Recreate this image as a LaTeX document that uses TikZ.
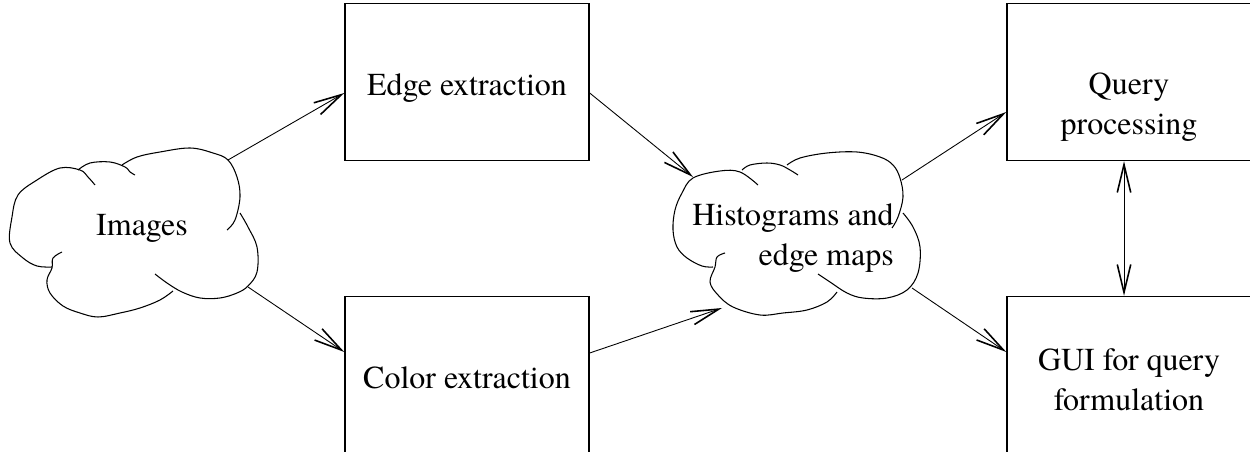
\documentclass[tikz,border=0pt]{standalone}
\usepackage{fontspec}
\setmainfont{texgyretermes-regular.otf}
\newfontfamily\figfont{texgyretermes-regular.otf}
\usetikzlibrary{arrows.meta}
\tikzset{
  >={Straight Barb[length=0.56cm,width=0.27cm,line width=0.9pt]},
  stage/.style={draw, line width=0.8pt, minimum width=4.88cm, minimum height=3.14cm},
  flow/.style={->, line width=0.5pt},
  puff/.style={line width=0.6pt}
}
\begin{document}
\begin{tikzpicture}[x=0.02cm,y=-0.02cm,font=\figfont\fontsize{18.2}{22.7}\selectfont]
\useasboundingbox (0,0) rectangle (1250,452);
\clip (0,0) rectangle (1250,452);
\node[stage] (edge) at (467,82) {};
\node[stage] (color) at (467,375) {};
\node[stage] (query) at (1129,82) {};
\node[stage] (gui) at (1129,375) {};
\node (edgetext) at ([yshift=-0.12cm]edge.center) {Edge extraction};
\node (colortext) at ([yshift=-0.06cm]color.center) {Color extraction};
\node[align=center] (querytext) at ([yshift=-0.5cm]query.center) {Query\\processing};
\node[align=center] (guitext) at ([yshift=-0.1cm]gui.center) {GUI for query\\formulation};

\node (imgs) at (142,228) {Images};
\draw[puff] plot[smooth, tension=0.6] coordinates {(95,185) (88,177) (80,170) (60,168) (37,180) (18,195) (12,217) (10,243) (23,258) (37,266) (52,267)};
\draw[puff] plot[smooth, tension=0.6] coordinates {(62,252) (53,258) (52,268) (47,280) (50,293) (63,306) (80,313) (98,317) (120,313) (140,308) (160,300) (173,291)};
\draw[puff] plot[smooth, tension=0.6] coordinates {(155,274) (167,283) (182,292) (200,298) (220,298) (237,293) (248,286) (257,272) (257,247) (248,227) (240,213)};
\draw[puff] plot[smooth, tension=0.6] coordinates {(227,230) (235,220) (240,197) (237,177) (228,160) (213,153) (190,148) (160,152) (137,157) (122,165)};
\draw[puff] plot[smooth, tension=0.6] coordinates {(78,170) (90,163) (110,162) (125,167) (130,172) (135,175)};
\coordinate (imgsup) at (228,160);
\coordinate (imgsdown) at (248,287);

\node[align=right] (hist) at (793,238) {Histograms and\\edge maps};
\draw[puff] plot[smooth, tension=0.6] coordinates {(758,185) (740,172) (720,171) (693,178) (682,193) (675,210) (673,230) (677,247) (687,258) (702,266) (713,267)};
\draw[puff] plot[smooth, tension=0.6] coordinates {(725,253) (717,257) (715,267) (710,282) (718,295) (733,307) (760,315) (783,313) (807,310) (827,302) (837,292)};
\draw[puff] plot[smooth, tension=0.6] coordinates {(818,274) (830,282) (847,293) (863,298) (887,298) (907,290) (918,273) (920,247) (913,227) (903,213)};
\draw[puff] plot[smooth, tension=0.6] coordinates {(892,228) (898,217) (903,197) (900,178) (893,165) (880,157) (857,152) (827,153) (800,158) (787,165)};
\draw[puff] plot[smooth, tension=0.6] coordinates {(742,170) (750,165) (767,163) (780,165) (790,170) (798,175)};
\coordinate (histin) at (693,177);
\coordinate (histlow) at (722,308);
\coordinate (histup) at (902,180);
\coordinate (histdown) at (912,288);

\draw[flow] (imgsup) -- ([yshift=-0.22cm]edge.west);
\draw[flow] (imgsdown) -- ([yshift=0.46cm]color.west);
\draw[flow] ([yshift=-0.22cm]edge.east) -- (histin);
\draw[flow] ([yshift=0.44cm]color.east) -- (histlow);
\draw[flow] (histup) -- ([yshift=-0.6cm]query.west);
\draw[flow] (histdown) -- ([yshift=0.46cm]gui.west);
\draw[flow, <->] ([xshift=-0.1cm]query.south) -- ([xshift=-0.1cm]gui.north);
\end{tikzpicture}
\end{document}
